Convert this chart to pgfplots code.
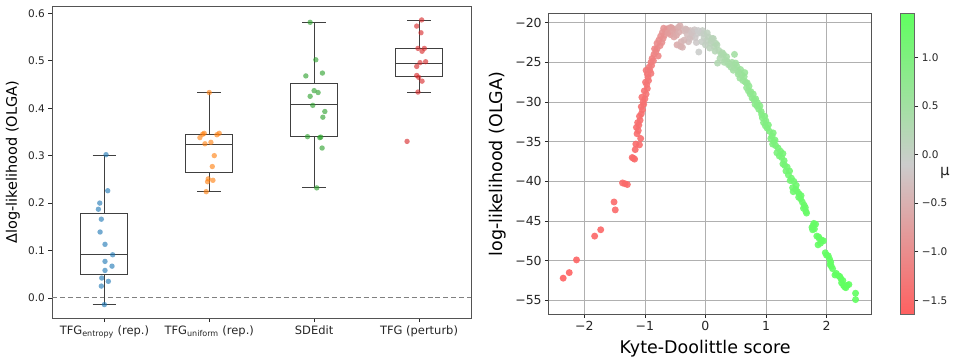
\documentclass[border=0pt]{standalone}
\usepackage{pgfplots}
\pgfplotsset{compat=1.18}
\usepgfplotslibrary{statistics}
\usepackage{fontspec}
\setmainfont{DejaVu Sans}
\definecolor{tabblue}{HTML}{1F77B4}
\definecolor{taborange}{HTML}{FF7F0E}
\definecolor{tabgreen}{HTML}{2CA02C}
\definecolor{tabred}{HTML}{D62728}
\definecolor{gridgray}{RGB}{176,176,176}
\definecolor{spine}{RGB}{40,40,40}

\pgfplotstableread{
x y m
-2.35 -52.2 -1.62
-2.25 -51.5 -1.60
-2.13 -49.9 -1.58
-1.83 -46.9 -1.55
-1.73 -46.1 -1.54
-1.51 -42.6 -1.52
-1.49 -43.6 -1.51
-1.37 -40.2 -1.50
-1.33 -40.3 -1.50
-1.29 -40.4 -1.49
-1.21 -37.0 -1.48
-1.17 -37.2 -1.47
-1.19 -37.1 -1.47
-1.15 -35.3 -1.46
-1.09 -35.4 -1.45
-1.07 -34.6 -1.44
-1.14 -33.2 -1.45
-1.11 -33.6 -1.44
-1.12 -32.6 -1.43
-1.08 -32.3 -1.42
-1.06 -31.5 -1.41
-1.04 -31.0 -1.40
-1.06 -30.6 -1.40
-1.02 -30.3 -1.38
-1.00 -29.6 -1.36
-0.98 -29.0 -1.35
-0.96 -28.3 -1.33
-0.99 -27.5 -1.33
-0.94 -27.3 -1.30
-0.96 -26.5 -1.30
-0.90 -26.4 -1.27
-0.98 -26.0 -1.30
-0.93 -25.6 -1.25
-0.90 -25.0 -1.22
-0.88 -24.5 -1.20
-0.85 -24.0 -1.15
-0.82 -23.7 -1.10
-0.80 -23.3 -1.08
-0.78 -24.2 -1.10
-0.75 -22.9 -1.00
-0.72 -22.5 -0.95
-0.70 -22.0 -0.92
-0.68 -21.6 -0.88
-0.66 -21.1 -0.85
-0.64 -20.8 -0.82
-0.60 -20.7 -0.75
-0.58 -21.5 -0.72
-0.55 -20.7 -0.68
-0.52 -21.8 -0.64
-0.50 -20.9 -0.60
-0.47 -22.8 -0.56
-0.45 -20.6 -0.52
-0.42 -20.4 -0.48
-0.40 -22.4 -0.45
-0.38 -23.1 -0.42
-0.36 -21.0 -0.40
-0.33 -20.8 -0.36
-0.30 -21.5 -0.32
-0.28 -22.4 -0.30
-0.25 -21.0 -0.26
-0.22 -21.7 -0.22
-0.20 -21.2 -0.20
-0.17 -21.9 -0.16
-0.14 -21.4 -0.12
-0.11 -23.7 -0.08
-0.08 -21.3 -0.05
-0.05 -21.0 -0.01
-0.02 -21.9 0.02
0.02 -22.3 0.06
0.05 -21.8 0.10
0.08 -22.6 0.13
0.11 -22.0 0.16
0.14 -23.0 0.20
0.17 -22.6 0.23
0.20 -25.1 0.26
0.22 -23.5 0.28
0.26 -24.0 0.32
0.30 -24.0 0.35
0.33 -24.7 0.38
0.36 -24.9 0.40
0.40 -25.2 0.43
0.44 -25.0 0.46
0.48 -24.0 0.48
0.48 -25.7 0.48
0.52 -25.5 0.52
0.55 -26.2 0.55
0.58 -25.9 0.58
0.60 -26.6 0.60
0.64 -26.8 0.64
0.66 -27.5 0.66
0.68 -28.2 0.68
0.71 -28.6 0.71
0.74 -29.0 0.74
0.77 -29.5 0.76
0.80 -29.7 0.79
0.82 -30.3 0.81
0.86 -30.1 0.84
0.88 -30.9 0.86
0.92 -31.2 0.89
0.94 -32.0 0.91
0.96 -32.6 0.92
1.00 -32.4 0.95
1.02 -33.3 0.97
1.06 -33.7 1.00
1.10 -34.3 1.02
1.12 -33.9 1.03
1.13 -35.0 1.04
1.16 -35.5 1.06
1.20 -35.8 1.08
1.24 -36.2 1.10
1.26 -37.0 1.12
1.30 -37.4 1.14
1.31 -38.0 1.15
1.35 -38.2 1.17
1.37 -39.2 1.18
1.42 -39.6 1.21
1.46 -40.0 1.23
1.44 -40.8 1.22
1.49 -41.0 1.25
1.52 -41.3 1.26
1.55 -41.6 1.27
1.57 -42.2 1.29
1.60 -42.6 1.30
1.63 -43.0 1.31
1.66 -43.8 1.32
1.76 -45.8 1.36
1.78 -45.6 1.37
1.82 -45.4 1.38
1.80 -46.0 1.37
1.84 -46.9 1.39
1.88 -47.2 1.40
1.92 -47.4 1.41
1.86 -48.0 1.39
1.98 -49.0 1.42
2.03 -49.4 1.43
2.07 -50.2 1.43
2.08 -50.7 1.43
2.14 -51.8 1.44
2.20 -51.9 1.44
2.24 -52.3 1.44
2.25 -52.8 1.44
2.28 -53.1 1.45
2.32 -53.4 1.45
2.37 -53.0 1.45
2.48 -54.1 1.45
2.48 -54.9 1.45
-1.16 -36.0 -1.47
-1.13 -34.0 -1.45
-1.10 -32.9 -1.43
-1.09 -31.8 -1.42
-1.03 -30.0 -1.38
-1.05 -29.4 -1.39
-1.01 -28.6 -1.36
-0.97 -27.8 -1.33
-0.95 -26.9 -1.31
-0.92 -26.0 -1.27
-0.89 -25.4 -1.22
-0.86 -24.8 -1.18
-0.84 -23.3 -1.12
-0.80 -22.6 -1.05
-0.77 -22.2 -1.00
-0.74 -21.7 -0.96
-0.71 -21.2 -0.92
-0.69 -20.7 -0.89
-0.62 -21.3 -0.78
-0.57 -20.6 -0.70
-0.53 -21.1 -0.65
-0.48 -21.6 -0.58
-0.44 -21.2 -0.52
-0.41 -23.0 -0.48
-0.35 -22.2 -0.39
-0.31 -20.9 -0.34
-0.26 -22.0 -0.28
-0.23 -21.3 -0.24
-0.18 -20.9 -0.18
-0.15 -22.5 -0.14
-0.12 -21.0 -0.10
-0.06 -22.4 -0.02
-0.03 -21.4 0.01
0.00 -22.8 0.04
0.03 -21.3 0.08
0.07 -23.2 0.12
0.10 -22.3 0.15
0.13 -22.0 0.18
0.16 -23.6 0.22
0.19 -22.8 0.25
0.24 -24.5 0.30
0.28 -23.8 0.33
0.31 -25.0 0.36
0.35 -24.3 0.39
0.38 -25.3 0.41
0.42 -25.6 0.45
0.46 -26.0 0.47
0.50 -25.1 0.50
0.54 -26.5 0.54
0.57 -27.0 0.57
0.62 -27.3 0.62
0.65 -26.3 0.64
0.69 -27.6 0.69
0.72 -28.0 0.72
0.75 -28.7 0.75
0.79 -29.0 0.78
0.83 -29.6 0.82
0.85 -30.5 0.83
0.90 -30.5 0.87
0.93 -31.6 0.90
0.98 -31.8 0.94
0.99 -33.0 0.95
1.04 -32.9 0.99
1.08 -34.6 1.01
1.11 -35.3 1.03
1.15 -34.8 1.05
1.18 -36.4 1.07
1.22 -36.8 1.09
1.28 -36.5 1.13
1.28 -37.8 1.13
1.33 -38.7 1.16
1.39 -38.7 1.19
1.40 -39.9 1.20
1.45 -41.3 1.23
1.50 -40.5 1.25
1.54 -42.0 1.27
1.58 -41.8 1.29
1.62 -43.4 1.30
1.65 -43.3 1.31
1.67 -44.0 1.32
1.79 -45.3 1.37
1.77 -46.1 1.37
1.87 -47.0 1.40
1.90 -47.8 1.40
1.95 -47.5 1.41
2.00 -49.3 1.42
2.05 -49.8 1.43
2.06 -50.5 1.43
2.10 -51.0 1.43
2.16 -51.6 1.44
2.22 -52.0 1.44
2.27 -52.5 1.44
2.30 -53.3 1.45
2.34 -53.1 1.45
}\kdtable

\begin{document}
\begin{tikzpicture}
\path (0,0) rectangle (953pt,358pt);
% ---------------- left: box + strip plot ----------------
\begin{axis}[
  at={(52pt,39pt)}, anchor=south west,
  scale only axis, width=420pt, height=313pt,
  xmin=0.5, xmax=4.5, ymin=-0.0436, ymax=0.6154,
  boxplot/draw direction=y,
  xtick={1,2,3,4},
  xticklabels={TFG\textsubscript{entropy} (rep.),TFG\textsubscript{uniform} (rep.),SDEdit,TFG (perturb)},
  ytick={0,0.1,0.2,0.3,0.4,0.5,0.6},
  yticklabels={0.0,0.1,0.2,0.3,0.4,0.5,0.6},
  xtick pos=bottom, ytick pos=left, tick align=outside,
  major tick length=3.5pt,
  tick style={spine, line width=0.8pt},
  axis line style={spine!80, line width=0.8pt},
  xticklabel style={font=\fontsize{11.5}{13}\selectfont, text=black!85},
  yticklabel style={font=\fontsize{10.5}{12}\selectfont, text=black!85},
  ylabel={Δlog-likelihood (OLGA)},
  ylabel style={font=\fontsize{14.5}{16}\selectfont, at={(axis description cs:-0.093,0.5)}, anchor=center},
  clip=false,
]
\addplot[gray, line width=1pt, dash pattern=on 5pt off 3pt] coordinates {(0.5,0) (4.5,0)};
\addplot[black!75, line width=1pt, solid, boxplot prepared={draw position=1, median=0.091, upper quartile=0.177, lower quartile=0.050, upper whisker=0.301, lower whisker=-0.014, box extend=0.45, whisker extend=0.225}] coordinates {};
\addplot[black!75, line width=1pt, solid, boxplot prepared={draw position=2, median=0.324, upper quartile=0.344, lower quartile=0.265, upper whisker=0.433, lower whisker=0.224, box extend=0.45, whisker extend=0.225}] coordinates {};
\addplot[black!75, line width=1pt, solid, boxplot prepared={draw position=3, median=0.407, upper quartile=0.452, lower quartile=0.340, upper whisker=0.581, lower whisker=0.232, box extend=0.45, whisker extend=0.225}] coordinates {};
\addplot[black!75, line width=1pt, solid, boxplot prepared={draw position=4, median=0.495, upper quartile=0.526, lower quartile=0.467, upper whisker=0.585, lower whisker=0.434, box extend=0.45, whisker extend=0.225}] coordinates {};
\addplot[only marks, mark=*, mark size=2.7pt, mark options={draw opacity=0, fill=tabblue, fill opacity=0.62}] coordinates {
(1.016,0.302) (1.032,0.226) (0.956,0.200) (0.943,0.187) (0.971,0.166)
(0.959,0.139) (1.006,0.113) (1.079,0.091) (1.006,0.077) (1.073,0.067)
(1.006,0.058) (0.975,0.042) (1.038,0.035) (0.971,0.025) (1.000,-0.014)};
\addplot[only marks, mark=*, mark size=2.7pt, mark options={draw opacity=0, fill=taborange, fill opacity=0.62}] coordinates {
(2.000,0.433) (1.952,0.347) (1.937,0.345) (1.911,0.338) (2.095,0.347)
(2.073,0.344) (1.959,0.325) (2.016,0.328) (2.048,0.300) (2.029,0.277)
(1.990,0.251) (2.035,0.248) (1.984,0.245) (1.971,0.224)};
\addplot[only marks, mark=*, mark size=2.7pt, mark options={draw opacity=0, fill=tabgreen, fill opacity=0.62}] coordinates {
(2.962,0.581) (3.016,0.502) (2.921,0.468) (3.079,0.474) (3.000,0.437)
(3.038,0.433) (2.962,0.425) (2.987,0.406) (3.102,0.393) (3.083,0.381)
(2.937,0.340) (3.054,0.338) (3.063,0.339) (3.076,0.316) (3.025,0.232)};
\addplot[only marks, mark=*, mark size=2.7pt, mark options={draw opacity=0, fill=tabred, fill opacity=0.62}] coordinates {
(4.025,0.586) (3.978,0.573) (4.019,0.559) (3.990,0.526) (4.051,0.526)
(4.029,0.520) (4.063,0.498) (4.010,0.496) (3.978,0.488) (3.978,0.469)
(3.997,0.465) (4.029,0.457) (3.990,0.434) (3.886,0.330)};
\end{axis}
% ---------------- right: scatter ----------------
\begin{axis}[
  at={(549.3pt,43.3pt)}, anchor=south west,
  scale only axis, width=323pt, height=301pt,
  xmin=-2.59, xmax=2.74, ymin=-56.76, ymax=-18.87,
  xtick={-2,-1,0,1,2}, xticklabels={−2,−1,0,1,2},
  ytick={-55,-50,-45,-40,-35,-30,-25,-20},
  yticklabels={−55,−50,−45,−40,−35,−30,−25,−20},
  xtick pos=bottom, ytick pos=left, tick align=outside,
  major tick length=3.5pt,
  tick style={spine, line width=0.8pt},
  axis line style={spine!80, line width=0.8pt},
  grid=major, major grid style={gridgray, line width=0.8pt},
  ticklabel style={font=\fontsize{12.5}{14}\selectfont, text=black!85},
  xlabel={Kyte-Doolittle score},
  xlabel style={font=\fontsize{17.5}{19}\selectfont, at={(axis description cs:0.485,-0.114)}, anchor=center},
  ylabel={log-likelihood (OLGA)},
  ylabel style={font=\fontsize{17.5}{19}\selectfont, at={(axis description cs:-0.159,0.5)}, anchor=center},
  colormap={rg}{rgb255(0cm)=(255,96,96); rgb255(1cm)=(204,204,204); rgb255(2cm)=(96,255,96)},
  point meta min=-1.644, point meta max=1.45,
  colorbar,
  colorbar style={
    at={(parent axis.north east)}, anchor=north west, xshift=20.4pt,
    width=14.6pt,
    ytick={-1.5,-1,-0.5,0,0.5,1},
    yticklabels={−1.5,−1.0,−0.5,0.0,0.5,1.0},
    yticklabel style={font=\fontsize{10.5}{12}\selectfont, text=black!85},
    ytick pos=right, yticklabel pos=right, tick align=outside,
    major tick length=3.5pt,
    tick style={spine, line width=0.8pt},
    axis line style={black!60, line width=0.8pt},
  },
]
\addplot[scatter, only marks, mark=*, mark size=3.5pt, scatter src=explicit,
  scatter/use mapped color={draw=mapped color, fill=mapped color}, fill opacity=0.9, draw opacity=0]
  table[x=x, y=y, meta=m] {\kdtable};
\end{axis}
\node[font=\fontsize{15}{17}\selectfont, text=black!85] at (946pt,185pt) {μ};
\end{tikzpicture}
\end{document}
